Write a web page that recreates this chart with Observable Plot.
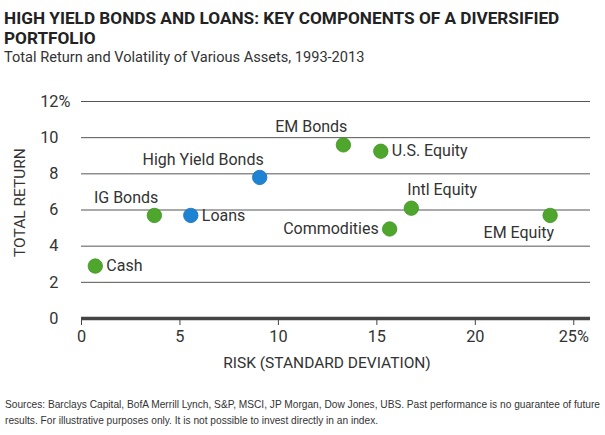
<!DOCTYPE html>
<html>
<head>
<meta charset="utf-8">
<script src="https://cdn.jsdelivr.net/npm/d3@7"></script>
<script src="https://cdn.jsdelivr.net/npm/@observablehq/plot@0.6"></script>
<style>
  body { margin: 0; background: #fff; width: 605px; height: 435px; position: relative; overflow: hidden; font-family: Roboto, "Liberation Sans", sans-serif; color: #222; }
  #title { position: absolute; left: 4px; top: 8px; font-weight: bold; font-size: 17.2px; line-height: 20px; color: #222; }
  #subtitle { position: absolute; left: 4px; top: 48px; font-size: 14.6px; color: #333; }
  #chart { position: absolute; left: 0; top: 80px; }
  #caption { position: absolute; left: 5px; top: 396px; font-family: "Liberation Sans", Arial, sans-serif; font-size: 11.5px; line-height: 16px; color: #333; white-space: nowrap; transform-origin: 0 0; }
</style>
</head>
<body>
<div id="title">HIGH YIELD BONDS AND LOANS: KEY COMPONENTS OF A DIVERSIFIED<br>PORTFOLIO</div>
<div id="subtitle">Total Return and Volatility of Various Assets, 1993-2013</div>
<div id="chart"></div>
<div id="caption"><span id="cap1">Sources: Barclays Capital, BofA Merrill Lynch, S&amp;P, MSCI, JP Morgan, Dow Jones, UBS. Past performance is no guarantee of future</span><br><span>results. For illustrative purposes only. It is not possible to invest directly in an index.</span></div>
<script>
const assets = ["Cash", "IG Bonds", "Loans", "High Yield Bonds", "EM Bonds", "U.S. Equity", "Intl Equity", "Commodities", "EM Equity"];
const risk = [0.7, 3.7, 5.55, 9.05, 13.3, 15.2, 16.75, 15.65, 23.8];
const totalReturn = [2.9, 5.7, 5.7, 7.8, 9.6, 9.25, 6.1, 4.95, 5.7];
const group = ["Other", "Other", "Loans & HY", "Loans & HY", "Other", "Other", "Other", "Other", "Other"];
const labelSide = ["right", "aboveEnd", "right", "aboveEnd", "aboveEnd", "right", "aboveStart", "left", "belowEnd"];
const xTicks = [0, 5, 10, 15, 20, 25];
const yTicks = [0, 2, 4, 6, 8, 10, 12];

const data = assets.map((a, i) => ({asset: a, risk: risk[i], ret: totalReturn[i], group: group[i], side: labelSide[i]}));

const labelFont = 16;
const tickFont = 16.3;
const ink = "#333";
const lab = (side, opts) => Plot.text(data.filter(d => d.side === side), {x: "risk", y: "ret", text: "asset", fontSize: labelFont, fill: ink, ...opts});

const chart = Plot.plot({
  width: 605,
  height: 305,
  marginTop: 21,
  marginBottom: 67,
  marginLeft: 81,
  marginRight: 15,
  style: {fontFamily: "Roboto, 'Liberation Sans', sans-serif", background: "#fff", color: ink},
  x: {domain: [0, 25.85]},
  y: {domain: [0, 12]},
  color: {domain: ["Other", "Loans & HY"], range: ["#4ea72c", "#1f83d3"]},
  marks: [
    Plot.gridY(yTicks.filter(d => d > 0), {stroke: "#555", strokeOpacity: 1, strokeWidth: 1}),
    Plot.ruleY([0], {stroke: "#444", strokeWidth: 3.5}),
    Plot.axisX(xTicks, {tickSize: 7, tickPadding: 5, fontSize: tickFont, stroke: "#444", fill: ink, label: null, tickFormat: d => d === 25 ? "25%" : String(d)}),
    Plot.axisY(yTicks, {tickSize: 0, tickPadding: 23, fontSize: tickFont, fill: ink, label: null}),
    Plot.text([12], {x: () => 0, y: d => d, text: () => "%", dx: -23, textAnchor: "start", fontSize: tickFont, fill: ink}),
    Plot.text(["RISK (STANDARD DEVIATION)"], {frameAnchor: "bottom", dx: -9, dy: 49, fontSize: 15.5, fill: ink}),
    Plot.text(["TOTAL RETURN"], {frameAnchor: "left", rotate: -90, dx: -61, dy: 47, fontSize: 15.5, fill: ink}),
    Plot.dot(data, {x: "risk", y: "ret", r: 7.2, fill: "group", stroke: d => d.group === "Other" ? "#3f9322" : "#1a72bb", strokeWidth: 0.8}),
    lab("right", {textAnchor: "start", dx: 11}),
    lab("aboveEnd", {textAnchor: "end", dx: 4, dy: -18}),
    lab("aboveStart", {textAnchor: "start", dx: -4, dy: -18}),
    lab("left", {textAnchor: "end", dx: -11}),
    lab("belowEnd", {textAnchor: "end", dx: 4, dy: 17})
  ]
});
document.getElementById("chart").appendChild(chart);

const cap = document.getElementById("caption");
const w = document.getElementById("cap1").getBoundingClientRect().width;
cap.style.transform = `scaleX(${595 / w})`;
</script>
</body>
</html>
